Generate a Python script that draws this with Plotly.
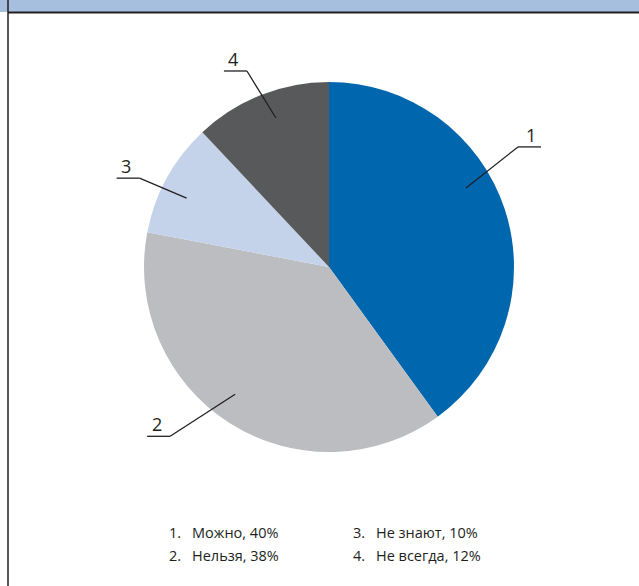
import math
import plotly.graph_objects as go

# ---- data ----
labels = ["1", "2", "3", "4"]
names = ["Можно", "Нельзя", "Не знают", "Не всегда"]
values = [40, 38, 10, 12]
colors = ["#0066ad", "#bcbdc0", "#c5d3ea", "#58595b"]

W, H = 639, 586
CX, CY, R = 329, 267, 185

def px(x):
    return x / W

def py(y):
    return 1 - y / H

fig = go.Figure()
fig.add_trace(go.Pie(
    values=values, labels=labels, sort=False, direction="clockwise", rotation=0,
    marker=dict(colors=colors, line=dict(width=0)),
    textinfo="none", hoverinfo="label+value", showlegend=False,
    domain=dict(x=[px(CX - R), px(CX + R)], y=[py(CY + R), py(CY - R)]),
))

shapes = []
annotations = []

# header band and border
shapes.append(dict(type="rect", xref="paper", yref="paper", x0=0, x1=1, y0=py(12), y1=1,
                   fillcolor="#a7bfdf", line=dict(width=0), layer="below"))
shapes.append(dict(type="line", xref="paper", yref="paper", x0=px(8), x1=1, y0=py(12.5), y1=py(12.5),
                   line=dict(color="#231f20", width=2)))
shapes.append(dict(type="line", xref="paper", yref="paper", x0=px(8), x1=px(8), y0=0, y1=1,
                   line=dict(color="#231f20", width=1.5)))

# leader-line styling per label: angular shift from slice middle (deg), elbow offset, horizontal direction
ang_shift = [-12, 4, -3, 2]
elbow = [(52, -41), (-65, 42), (-47, -20), (-29, -47)]
hdir = [1, -1, -1, -1]
total = sum(values)
cum = 0
for i, v in enumerate(values):
    mid = (cum + v / 2) / total * 2 * math.pi + math.radians(ang_shift[i])
    cum += v
    r_in = 0.855 * R
    x0 = CX + r_in * math.sin(mid)
    y0 = CY - r_in * math.cos(mid)
    x1 = x0 + elbow[i][0]
    y1 = y0 + elbow[i][1]
    x2 = x1 + 23 * hdir[i]
    shapes.append(dict(type="line", xref="paper", yref="paper", x0=px(x0), y0=py(y0), x1=px(x1), y1=py(y1),
                       line=dict(color="#231f20", width=1.3)))
    shapes.append(dict(type="line", xref="paper", yref="paper", x0=px(x1), y0=py(y1), x1=px(x2), y1=py(y1),
                       line=dict(color="#231f20", width=1.3)))
    annotations.append(dict(xref="paper", yref="paper", x=px((x1 + x2) / 2 + 2 * hdir[i]), y=py(y1 + 2),
                            text=labels[i], showarrow=False, xanchor="center", yanchor="bottom",
                            font=dict(size=18, color="#231f20", family="Open Sans")))

# legend text
leg_pos = [(168, 532), (168, 555), (352, 532), (352, 555)]
for i, (lx, ly) in enumerate(leg_pos):
    annotations.append(dict(xref="paper", yref="paper", x=px(lx - 1), y=py(ly), text=f"{labels[i]}.",
                            showarrow=False, xanchor="left", yanchor="middle",
                            font=dict(size=14.5, color="#231f20", family="Open Sans")))
    annotations.append(dict(xref="paper", yref="paper", x=px(lx + 22), y=py(ly),
                            text=f"{names[i]}, {values[i]}%",
                            showarrow=False, xanchor="left", yanchor="middle",
                            font=dict(size=14.5, color="#231f20", family="Open Sans")))

fig.update_layout(
    width=W, height=H, margin=dict(l=0, r=0, t=0, b=0),
    paper_bgcolor="white", plot_bgcolor="white",
    shapes=shapes, annotations=annotations, showlegend=False,
)
fig.write_html("out.html", config={"displayModeBar": False},
               post_script="document.body.style.margin='0';document.body.style.overflow='hidden';")
